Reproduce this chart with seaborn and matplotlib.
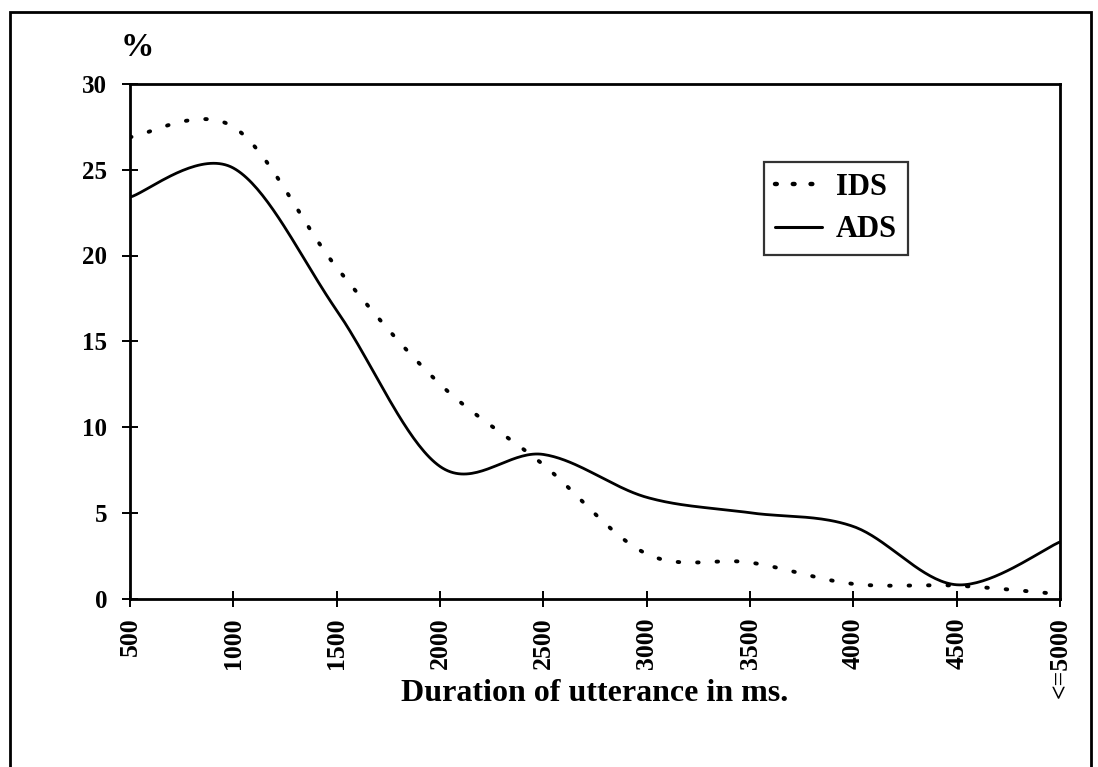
#!/usr/bin/env python

import matplotlib
matplotlib.use("Agg")
import matplotlib.pyplot as plt
from matplotlib.patches import Rectangle
import numpy as np
import pandas as pd
import seaborn as sns

# values (percent of utterances per duration class)
durations = ["500", "1000", "1500", "2000", "2500", "3000", "3500", "4000", "4500", "<=5000"]
ids_pct = [26.9, 27.5, 19.3, 12.5, 7.8, 2.6, 2.1, 0.85, 0.75, 0.25]
ads_pct = [23.4, 25.1, 16.8, 7.7, 8.4, 5.9, 5.0, 4.2, 0.8, 3.3]


def smooth_line(y, steps=40):
    # Excel-style "smoothed line": cubic Bezier through every point
    x = np.arange(len(y), dtype=float)
    y = np.asarray(y, dtype=float)
    px = np.r_[x[0], x, x[-1]]
    py = np.r_[y[0], y, y[-1]]
    t = np.linspace(0, 1, steps)[:, None]
    xs, ys = [], []
    for i in range(len(y) - 1):
        p = np.array([[px[i + j], py[i + j]] for j in range(4)])
        c1 = p[1] + (p[2] - p[0]) / 6
        c2 = p[2] - (p[3] - p[1]) / 6
        b = ((1 - t) ** 3) * p[1] + 3 * ((1 - t) ** 2) * t * c1 + 3 * (1 - t) * t ** 2 * c2 + t ** 3 * p[2]
        xs.append(b[:, 0])
        ys.append(b[:, 1])
    return np.concatenate(xs), np.concatenate(ys)


def main():
    sns.set_style("ticks")
    plt.rcParams["font.family"] = ["Liberation Serif", "DejaVu Serif"]
    plt.rcParams["font.weight"] = "bold"
    for k in ["text.color", "axes.labelcolor", "xtick.color", "ytick.color", "axes.edgecolor"]:
        plt.rcParams[k] = "black"

    frames = []
    for name, vals in [("IDS", ids_pct), ("ADS", ads_pct)]:
        sx, sy = smooth_line(vals)
        frames.append(pd.DataFrame({"x": sx, "pct": sy, "series": name}))
    df = pd.concat(frames, ignore_index=True)

    fig = plt.figure(figsize=(10.98, 7.67), dpi=100)
    ax = fig.add_axes([130 / 1098, 1 - 598.5 / 767, 930 / 1098, 514.5 / 767])

    sns.lineplot(data=df, x="x", y="pct", hue="series", style="series",
                 hue_order=["IDS", "ADS"], style_order=["IDS", "ADS"],
                 palette={"IDS": "black", "ADS": "black"},
                 dashes={"IDS": (0.4, 4.6), "ADS": ""},
                 estimator=None, sort=False, linewidth=2.0, ax=ax)
    for line in ax.lines:
        line.set_dash_capstyle("round")
        if line.get_linestyle() != "-":
            line.set_linewidth(2.8)

    ax.set_xlim(0, len(durations) - 1)
    ax.set_ylim(0, 30)
    ax.set_yticks(range(0, 31, 5))
    ax.set_xticks(range(len(durations)), durations, rotation=90)
    ax.set_xlabel("Duration of utterance in ms.", fontsize=23, fontweight="bold", va="top")
    ax.xaxis.set_label_coords(0.5, -0.157)
    ax.set_ylabel("")
    ax.tick_params(axis="both", direction="inout", length=11, width=1.4, color="black")
    ax.tick_params(axis="y", labelsize=18, pad=11)
    ax.tick_params(axis="x", labelsize=18.5, pad=8)
    for s in ax.spines.values():
        s.set_visible(True)
        s.set_linewidth(2.0)
        s.set_color("black")

    fig.text(137.5 / 1098, 1 - 48 / 767, "%", fontsize=24, fontweight="bold", ha="center", va="center")

    leg = ax.legend(loc="upper left", bbox_to_anchor=(764 / 1098, 1 - 162 / 767),
                    bbox_transform=fig.transFigure, frameon=True, fancybox=False,
                    fontsize=22, handlelength=1.55, handletextpad=0.45, labelspacing=0.45,
                    borderpad=0.35, borderaxespad=0, title=None)
    leg.get_frame().set_edgecolor("black")
    leg.get_frame().set_linewidth(1.6)
    for h in leg.get_lines():
        h.set_dash_capstyle("round")
        if h.get_linestyle() == "-":
            h.set_linewidth(2.2)
        else:
            h.set_linewidth(3.2)
            h.set_dashes((0.4, 3.6))

    # outer frame around the whole chart
    fig.add_artist(Rectangle((10 / 1098, -0.02), 1081 / 1098, 1.02 - 12 / 767,
                             transform=fig.transFigure, fill=False, edgecolor="black", linewidth=2.0))

    fig.savefig("out.png", dpi=100)
    plt.close(fig)


if __name__ == "__main__":
    main()
